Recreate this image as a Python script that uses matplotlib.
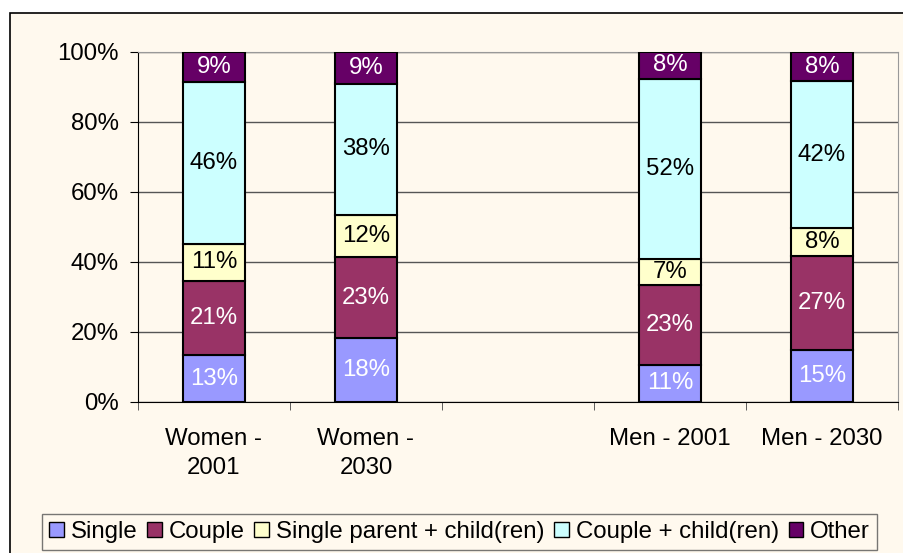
import numpy as np
import matplotlib.pyplot as plt
from matplotlib.patches import Rectangle

plt.rcParams['font.family'] = ['Liberation Sans', 'DejaVu Sans']

groups = ['Women -\n2001', 'Women -\n2030', '', 'Men - 2001', 'Men - 2030']
series = ['Single', 'Couple', 'Single parent + child(ren)', 'Couple + child(ren)', 'Other']
single = [13.4, 18.3, np.nan, 10.6, 15.0]
couple = [21.2, 23.1, np.nan, 22.8, 26.6]
single_parent = [10.6, 11.9, np.nan, 7.4, 8.0]
couple_child = [46.2, 37.7, np.nan, 51.6, 42.0]
other = [8.6, 9.0, np.nan, 7.6, 8.4]
colors = ['#9999FF', '#993366', '#FFFFCC', '#CCFFFF', '#660066']
text_colors = ['white', 'white', 'black', 'black', 'white']

bg = '#FFF9EE'
fs = 17.3
fig = plt.figure(figsize=(9.04, 5.53), dpi=100, facecolor='white')
# chart area frame
fig.patches.append(Rectangle((10 / 904, -0.1), 1.2, 1.1 - 13 / 553, transform=fig.transFigure,
                             facecolor=bg, edgecolor='black', linewidth=1.2, zorder=-5))

ax = fig.add_axes([138 / 904, 1 - 402 / 553, 760 / 904, 350 / 553])
ax.set_facecolor(bg)

x = np.arange(len(groups))
bottom = np.zeros(len(groups))
data = [single, couple, single_parent, couple_child, other]
for vals, name, c, tc in zip(data, series, colors, text_colors):
    vals = np.array(vals)
    bars = ax.bar(x, vals, 0.41, bottom=bottom, color=c, edgecolor='black',
                  linewidth=1.5, label=name, zorder=3)
    for xi, v, b in zip(x, vals, bottom):
        if np.isnan(v):
            continue
        ax.text(xi, b + v / 2, f"{v:.0f}%", ha='center', va='center',
                color=tc, fontsize=fs, zorder=4)
    bottom = bottom + np.nan_to_num(vals)

ax.set_xlim(-0.5, len(groups) - 0.5)
ax.set_ylim(0, 100)
ax.set_yticks(np.arange(0, 101, 20))
ax.set_yticklabels([f"{v}%" for v in range(0, 101, 20)], fontsize=fs)
ax.yaxis.grid(True, color='#555555', linewidth=1)
ax.set_axisbelow(True)

ax.set_xticks(x)
ax.set_xticklabels(groups, fontsize=fs, linespacing=1.4)
ax.set_xticks(np.arange(-0.5, len(groups)), minor=True)
ax.tick_params(axis='x', which='major', length=0, pad=19)
ax.tick_params(axis='x', which='minor', length=6, direction='out', color='#444444')
ax.tick_params(axis='y', length=6, pad=8)

for s in ['left', 'bottom']:
    ax.spines[s].set_color('black')
for s in ['top', 'right']:
    ax.spines[s].set_color('#999999')

leg = fig.legend(loc='lower left', bbox_to_anchor=(42 / 904, 3 / 553),
                 ncol=5, fontsize=fs, frameon=True, fancybox=False,
                 handlelength=0.6, handleheight=0.6, handletextpad=0.3, columnspacing=0.4,
                 borderpad=0.3, borderaxespad=0)
leg.get_frame().set_edgecolor('#555555')
leg.get_frame().set_facecolor(bg)
leg.get_frame().set_linewidth(1)
for h in leg.legend_handles:
    h.set_linewidth(1)

fig.savefig('out.png', dpi=100, facecolor=fig.get_facecolor())
